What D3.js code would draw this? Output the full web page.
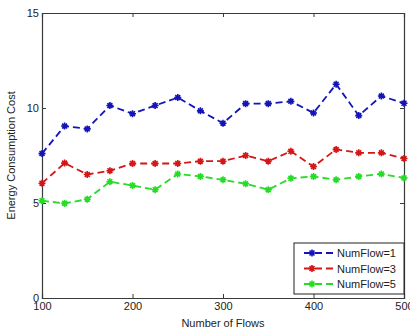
<!DOCTYPE html>
<head>
	<meta charset="utf-8">
	<style>
		body {margin: 0; background: #fff;}
		text {font-family: Arial, "Liberation Sans", sans-serif; fill: #222;}
	</style>
	<script src="https://d3js.org/d3.v7.min.js" charset="utf-8"></script>
</head>
<body>
	<script>
		// data
		var flows = [100, 125, 150, 175, 200, 225, 250, 275, 300, 325, 350, 375, 400, 425, 450, 475, 500];
		var numFlow1 = [7.6, 9.05, 8.9, 10.13, 9.7, 10.13, 10.55, 9.85, 9.2, 10.23, 10.23, 10.35, 9.74, 11.25, 9.6, 10.63, 10.25];
		var numFlow3 = [6.04, 7.1, 6.5, 6.7, 7.08, 7.08, 7.08, 7.2, 7.2, 7.5, 7.2, 7.72, 6.92, 7.82, 7.64, 7.64, 7.34];
		var numFlow5 = [5.12, 4.98, 5.2, 6.12, 5.92, 5.7, 6.53, 6.4, 6.22, 6.01, 5.7, 6.3, 6.4, 6.22, 6.4, 6.53, 6.32];
		var seriesNames = ["NumFlow=1", "NumFlow=3", "NumFlow=5"];
		var seriesColors = ["#1414b8", "#d41616", "#26dc26"];
		var xTicks = [100, 200, 300, 400, 500];
		var yTicks = [0, 5, 10, 15];

		var series = [numFlow1, numFlow3, numFlow5];

		var W = 410, H = 331;
		var margin = {top: 13, right: 6, bottom: 33, left: 42};
		var width = W - margin.left - margin.right,
			height = H - margin.top - margin.bottom;

		var svg = d3.select("body").append("svg")
			.attr("width", W)
			.attr("height", H);
		var g = svg.append("g")
			.attr("transform", "translate(" + margin.left + "," + margin.top + ")");

		var x = d3.scaleLinear().domain([100, 500]).range([0, width]);
		var y = d3.scaleLinear().domain([0, 15]).range([height, 0]);

		// axes: outer ticks drawn inward, mirrored on top/right
		var fmt = d3.format("d");
		g.append("g")
			.attr("transform", "translate(0," + height + ")")
			.call(d3.axisBottom(x).tickValues(xTicks).tickFormat(fmt).tickSize(-4).tickPadding(6))
			.call(function(a){ a.selectAll(".tick text").attr("dy", "0.55em"); });
		g.append("g")
			.call(d3.axisTop(x).tickValues(xTicks).tickSize(-4).tickFormat(""));
		g.append("g")
			.call(d3.axisLeft(y).tickValues(yTicks).tickFormat(fmt).tickSize(-4).tickPadding(3));
		g.append("g")
			.attr("transform", "translate(" + width + ",0)")
			.call(d3.axisRight(y).tickValues(yTicks).tickSize(-4).tickFormat(""));

		g.selectAll(".domain").attr("stroke", "#3a3a3a").attr("stroke-width", 1.2);
		g.selectAll(".tick line").attr("stroke", "#3a3a3a");
		g.selectAll(".tick text").attr("font-size", 11).attr("fill", "#222");

		// axis titles
		g.append("text")
			.attr("x", width / 2)
			.attr("y", height + 29)
			.attr("text-anchor", "middle")
			.attr("font-size", 11)
			.text("Number of Flows");
		g.append("text")
			.attr("transform", "translate(-27," + (height / 2) + ") rotate(-90)")
			.attr("text-anchor", "middle")
			.attr("font-size", 11)
			.text("Energy Consumption Cost");

		var line = d3.line()
			.x(function(d, i){ return x(flows[i]); })
			.y(function(d){ return y(d); });

		function star(sel, color) {
			var r = 3.5;
			sel.append("path")
				.attr("d", "M" + (-r) + ",0H" + r + "M0," + (-r) + "V" + r +
					"M" + (-r*0.7) + "," + (-r*0.7) + "L" + (r*0.7) + "," + (r*0.7) +
					"M" + (-r*0.7) + "," + (r*0.7) + "L" + (r*0.7) + "," + (-r*0.7))
				.attr("stroke", color)
				.attr("stroke-width", 1.6)
				.attr("fill", "none");
			sel.append("circle").attr("r", 2).attr("fill", color);
		}

		series.forEach(function(s, k) {
			g.append("path")
				.datum(s)
				.attr("d", line)
				.attr("fill", "none")
				.attr("stroke", seriesColors[k])
				.attr("stroke-width", 1.8)
				.attr("stroke-dasharray", "7,4");
			g.selectAll(".m" + k)
				.data(s)
				.enter()
				.append("g")
				.attr("class", "m" + k)
				.attr("transform", function(d, i){ return "translate(" + x(flows[i]) + "," + y(d) + ")"; })
				.each(function(){ star(d3.select(this), seriesColors[k]); });
		});

		// legend
		var lg = g.append("g").attr("transform", "translate(" + (294 - margin.left) + "," + (243 - margin.top) + ")");
		lg.append("rect")
			.attr("width", width - (294 - margin.left))
			.attr("height", 51)
			.attr("fill", "#fff")
			.attr("stroke", "#222")
			.attr("stroke-width", 1);
		seriesNames.forEach(function(name, k) {
			var ly = 10 + k * 15.5;
			lg.append("line")
				.attr("x1", 10).attr("x2", 39)
				.attr("y1", ly).attr("y2", ly)
				.attr("stroke", seriesColors[k])
				.attr("stroke-width", 1.8)
				.attr("stroke-dasharray", "7,4");
			var m = lg.append("g").attr("transform", "translate(" + 18 + "," + ly + ")");
			star(m, seriesColors[k]);
			lg.append("text")
				.attr("x", 43)
				.attr("y", ly + 4)
				.attr("font-size", 11)
				.text(name);
		});
	</script>
</body>
</html>
